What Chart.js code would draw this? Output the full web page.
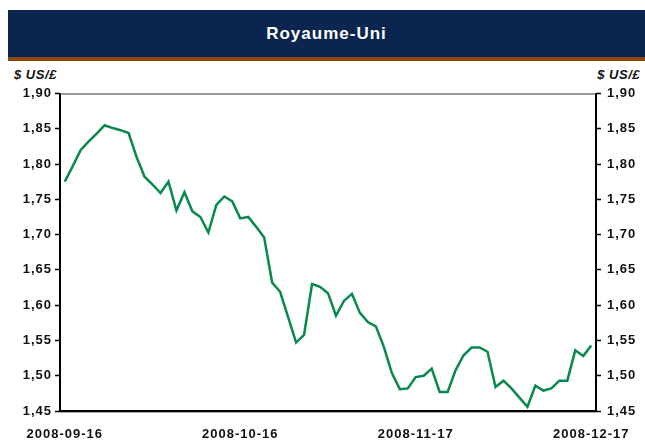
<!DOCTYPE html>
<html>
<head>
<meta charset="utf-8">
<script src="https://cdn.jsdelivr.net/npm/chart.js@4"></script>
<style>
  body { margin:0; background:#fff; font-family:'Liberation Sans', Arial, sans-serif; }
  #wrap { position:relative; width:645px; height:440px; overflow:hidden; }
  #band { position:absolute; left:8px; top:10px; width:637px; height:47px; background:#0a2550; color:#fff;
          font-weight:bold; font-size:17px; letter-spacing:1px; text-align:center; line-height:47px; }
  #rule { position:absolute; left:8px; top:57px; width:637px; height:4px; background:#8a4512; }
  .unit { position:absolute; top:67px; font-weight:bold; font-style:italic; font-size:13px; letter-spacing:.5px; color:#111; }
  canvas { position:absolute; left:0; top:0; }
</style>
</head>
<body>
<div id="wrap">
  <div id="band">Royaume-Uni</div>
  <div id="rule"></div>
  <div class="unit" style="left:14px">$ US/£</div>
  <div class="unit" style="right:5px">$ US/£</div>
  <canvas id="gbp" width="645" height="440"></canvas>
</div>
<script>
// ── business days, 2008-09-16 .. 2008-12-17 ──
const DATES = [
  '2008-09-16','2008-09-17','2008-09-18','2008-09-19','2008-09-22','2008-09-23','2008-09-24','2008-09-25','2008-09-26','2008-09-29','2008-09-30',
  '2008-10-01','2008-10-02','2008-10-03','2008-10-06','2008-10-07','2008-10-08','2008-10-09','2008-10-10','2008-10-13','2008-10-14','2008-10-15',
  '2008-10-16','2008-10-17','2008-10-20','2008-10-21','2008-10-22','2008-10-23','2008-10-24','2008-10-27','2008-10-28','2008-10-29','2008-10-30','2008-10-31',
  '2008-11-03','2008-11-04','2008-11-05','2008-11-06','2008-11-07','2008-11-10','2008-11-11','2008-11-12','2008-11-13','2008-11-14',
  '2008-11-17','2008-11-18','2008-11-19','2008-11-20','2008-11-21','2008-11-24','2008-11-25','2008-11-26','2008-11-27','2008-11-28',
  '2008-12-01','2008-12-02','2008-12-03','2008-12-04','2008-12-05','2008-12-08','2008-12-09','2008-12-10','2008-12-11','2008-12-12',
  '2008-12-15','2008-12-16','2008-12-17'
];

// $ US per £
const GBP_USD = [
  1.775, 1.797, 1.820, 1.832, 1.843, 1.855, 1.851, 1.848, 1.844, 1.810, 1.782,
  1.771, 1.759, 1.775, 1.734, 1.760, 1.733, 1.725, 1.703, 1.742, 1.754, 1.747,
  1.723, 1.725, 1.711, 1.696, 1.632, 1.619, 1.583, 1.547, 1.558, 1.630, 1.626, 1.617,
  1.585, 1.606, 1.616, 1.589, 1.576, 1.570, 1.541, 1.504, 1.481, 1.482,
  1.498, 1.500, 1.510, 1.477, 1.477, 1.508, 1.529, 1.540, 1.540, 1.534,
  1.484, 1.493, 1.482, 1.469, 1.456, 1.486, 1.479, 1.482, 1.493, 1.493,
  1.536, 1.528, 1.543
];

const TICK_DATES = ['2008-09-16', '2008-10-16', '2008-11-17', '2008-12-17'];
const Y_MIN = 1.45, Y_MAX = 1.90, Y_STEP = 0.05;

const tickFont = { family: "'Liberation Sans', Arial, sans-serif", size: 13, weight: 'bold' };
const fmt = v => v.toFixed(2).replace('.', ',');

// wider glyph spacing like the source
const spacing = {
  id: 'spacing',
  beforeUpdate(c) { c.ctx.letterSpacing = '1px'; },
  beforeDraw(c) { c.ctx.letterSpacing = '1px'; }
};

// box round the plot
const frame = {
  id: 'frame',
  afterDraw(c) {
    const { ctx, chartArea: a } = c;
    ctx.save();
    ctx.strokeStyle = '#333'; ctx.lineWidth = 1.2;
    ctx.beginPath(); ctx.moveTo(a.left, a.top + 0.5); ctx.lineTo(a.right, a.top + 0.5); ctx.stroke();
    ctx.strokeStyle = '#000'; ctx.lineWidth = 2;
    ctx.beginPath();
    ctx.moveTo(a.left, a.top); ctx.lineTo(a.left, a.bottom); ctx.lineTo(a.right, a.bottom); ctx.lineTo(a.right, a.top);
    ctx.stroke();
    ctx.strokeStyle = '#aaa'; ctx.lineWidth = 1;
    ctx.beginPath(); ctx.moveTo(a.left, a.bottom + 1.5); ctx.lineTo(a.right, a.bottom + 1.5); ctx.stroke();
    ctx.restore();
  }
};

const yAxis = (pos, w, pad) => ({
  position: pos, min: Y_MIN, max: Y_MAX,
  afterFit: s => { s.width = w; },
  grid: { drawOnChartArea: false, tickLength: 5, tickColor: '#000', tickWidth: 1.5 },
  border: { display: false },
  ticks: { stepSize: Y_STEP, callback: v => fmt(v), padding: pad, color: '#111', font: tickFont }
});

new Chart(document.getElementById('gbp'), {
  type: 'line',
  data: {
    datasets: [{
      data: GBP_USD.map((v, i) => ({ x: i, y: v })),
      borderColor: '#078a4b', borderWidth: 2.5, pointRadius: 0, tension: 0, fill: false
    }]
  },
  options: {
    responsive: false, animation: false,
    layout: { padding: { top: 93.5, left: 0, right: 0, bottom: 0 } },
    plugins: { legend: { display: false }, tooltip: { enabled: false } },
    scales: {
      x: {
        type: 'linear', min: -0.6, max: DATES.length - 0.4,
        afterFit: s => { s.height = 29; },
        afterBuildTicks: s => { s.ticks = TICK_DATES.map(d => ({ value: DATES.indexOf(d) })); },
        grid: { display: false }, border: { display: false },
        ticks: { callback: v => DATES[v], autoSkip: false, maxRotation: 0, padding: 8, color: '#111', font: tickFont }
      },
      y: yAxis('left', 60, 3),
      y2: yAxis('right', 49, 6)
    }
  },
  plugins: [spacing, frame]
});
</script>
</body>
</html>
